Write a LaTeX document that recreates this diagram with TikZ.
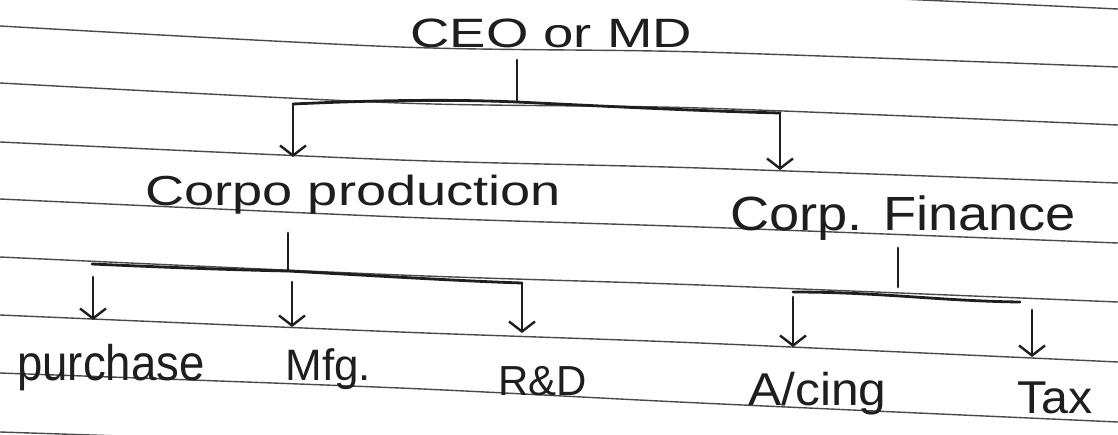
\documentclass[tikz,border=0pt]{standalone}
\usepackage{fontspec}
\usepackage{graphicx}
\setmainfont{Liberation Sans}
\usetikzlibrary{arrows.meta}
\definecolor{ink}{HTML}{1E1E1E}
\definecolor{ruling}{HTML}{4A4A4A}
\begin{document}
\begin{tikzpicture}[x=0.5pt,y=-0.5pt,
  rule/.style={draw=ruling,line width=0.7pt},
  lbl/.style={anchor=base west,inner sep=0pt,text=ink},
  link/.style={draw=ink,line width=1.4pt,line cap=round,line join=round},
  down/.style={link,-{Straight Barb[length=5pt,width=13pt,line width=1.2pt]}}]
\useasboundingbox (0,0) rectangle (1118,434);
\fill[white] (0,0) rectangle (1118,434);
\begin{scope}
\clip (0,0) rectangle (1118,434);
% notebook ruling
\foreach \a/\b/\c/\d in {-34/-12/-9/9, 26/47/52/67, 83/103/108/125, 142/160/168/183,
                         199/217/227/243, 257/275/285/302, 315/332/343/362,
                         373/388/403/422, 432/446/462/481}
  \draw[rule] plot[smooth] coordinates {(0,\a) (400,\b) (700,\c) (1118,\d)};
\end{scope}

% labels
\node[lbl,font=\fontsize{20.5}{24}\selectfont] (ceo) at (410,47) {\scalebox{1.33}[1]{CEO or MD}};
\node[lbl,font=\fontsize{21}{24}\selectfont] (prod) at (145,205) {\scalebox{1.29}[1]{Corpo production}};
\node[lbl,font=\fontsize{24}{28}\selectfont] (fin) at (730,230) {\scalebox{1.13}[1]{Corp. Finance}};
\node[lbl,font=\fontsize{25}{28}\selectfont] (pur) at (17,380) {\scalebox{0.91}[1]{purchase}};
\node[lbl,font=\fontsize{22}{26}\selectfont] (mfg) at (285,380) {Mfg.};
\node[lbl,font=\fontsize{21}{24}\selectfont] (rnd) at (498,395) {R\&D};
\node[lbl,font=\fontsize{23}{26}\selectfont] (acc) at (748,405) {\scalebox{1.08}[1]{A/cing}};
\node[lbl,font=\fontsize{23}{26}\selectfont] (tax) at (1017,413) {\scalebox{1.05}[1]{Tax}};

% top level branch
\coordinate (ceoS) at (517,60);
\coordinate (topJ) at (517,102);
\coordinate (topL) at (293,104);
\coordinate (topR) at (780,113);
\coordinate (prodN) at (293,157);
\coordinate (finN) at (780,170);
\draw[link] (ceoS) -- (topJ);
\draw[link] (topL) .. controls (400,99) and (470,100) .. (topJ)
            .. controls (600,106) and (700,111) .. (topR);
\draw[down] (topL) -- (prodN);
\draw[down] (topR) -- (finN);

% production branch
\coordinate (prodS) at (288,233);
\coordinate (prodJ) at (288,271);
\coordinate (pL) at (92,264);
\coordinate (pR) at (522,283);
\coordinate (purA) at (93,277);
\coordinate (purN) at (93,320);
\coordinate (mfgA) at (292,282);
\coordinate (mfgN) at (292,327);
\coordinate (rndN) at (522,333);
\draw[link] (prodS) -- (prodJ);
\draw[link] (pL) .. controls (180,268) and (240,270) .. (prodJ)
            .. controls (380,276) and (460,281) .. (pR);
\draw[down] (purA) -- (purN);
\draw[down] (mfgA) -- (mfgN);
\draw[down] (pR) -- (rndN);

% finance branch
\coordinate (finS) at (898,248);
\coordinate (finE) at (898,287);
\coordinate (fL) at (793,292);
\coordinate (fR) at (1020,302);
\coordinate (accA) at (793,297);
\coordinate (accN) at (793,347);
\coordinate (taxA) at (1032,310);
\coordinate (taxN) at (1032,357);
\draw[link] (finS) -- (finE);
\draw[link] (fL) .. controls (880,292) and (940,301) .. (fR);
\draw[down] (accA) -- (accN);
\draw[down] (taxA) -- (taxN);
\end{tikzpicture}
\end{document}
